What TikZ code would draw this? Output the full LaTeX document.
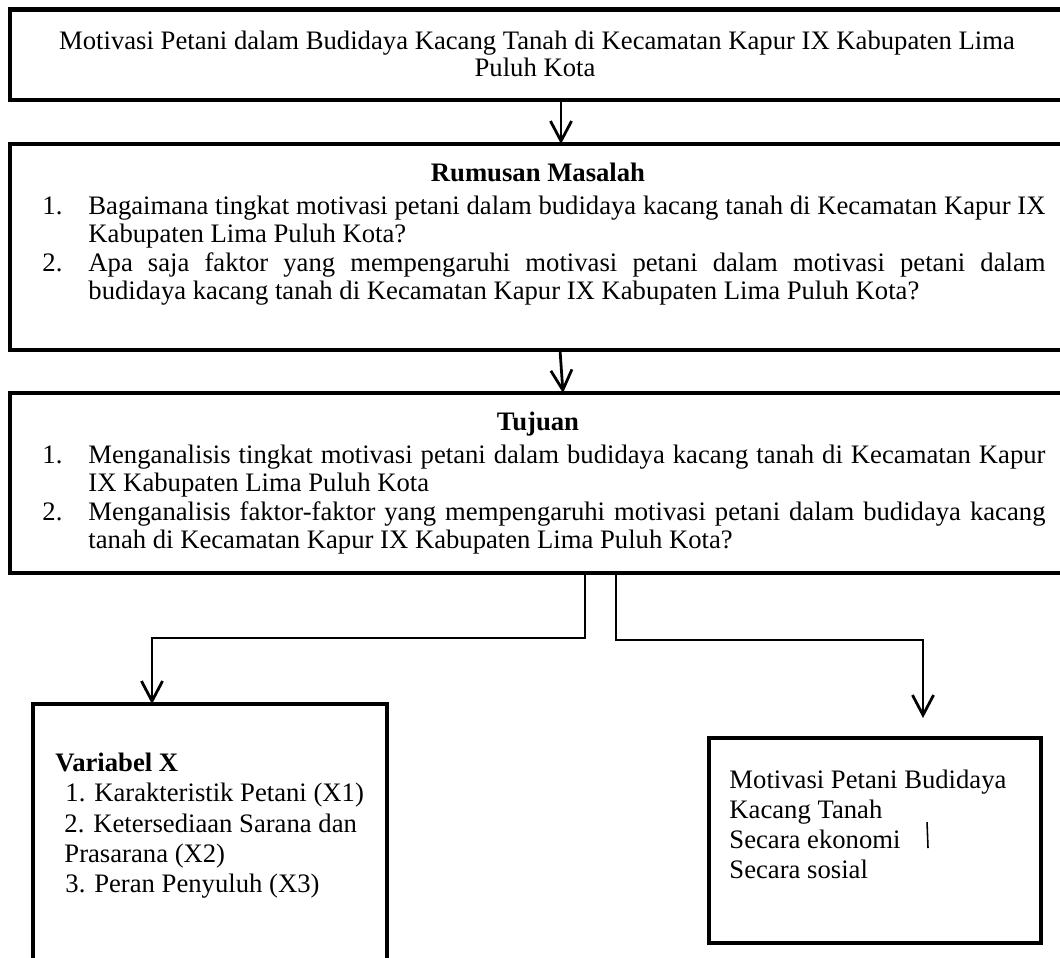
\documentclass[tikz,border=0pt]{standalone}
\usepackage{fontspec}
\setmainfont{Liberation Serif}
\usetikzlibrary{arrows.meta,fit}
\newcommand{\jl}[1]{\makebox[430.65pt][s]{#1}}
\begin{document}
\begin{tikzpicture}[x=0.45pt,y=-0.45pt,
  box/.style={draw, line width=2pt, inner sep=0pt, outer sep=0pt, rectangle},
  arr/.style={line width=1.25pt, -{Straight Barb[length=9pt,width=9.5pt,line width=1.25pt]}},
  txt/.style={anchor=base west, inner sep=0pt, font=\fontsize{12}{14}\selectfont},
  ctxt/.style={anchor=base, inner sep=0pt, font=\fontsize{12}{14}\selectfont},
  stray/.style={line width=0.7pt}]
\useasboundingbox (0,0) rectangle (1060,957);
\clip (0,0) rectangle (1060,957);
\fill[white] (0,0) rectangle (1060,957);

% boxes
\node[box, fit={(10,9.5) (1075,100)}] (b1) {};
\node[box, fit={(10,144) (1075,350)}] (b2) {};
\node[box, fit={(10,393) (1075,573)}] (b3) {};
\node[box, fit={(33,704) (387,990)}] (b4) {};
\node[box, fit={(709,738) (1041,943)}] (b5) {};

% box 1 text
\node[ctxt] (t1a) at (537,49) {Motivasi Petani dalam Budidaya Kacang Tanah di Kecamatan Kapur IX Kabupaten Lima};
\node[ctxt] (t1b) at (535,76) {Puluh Kota};

% box 2 text
\node[ctxt] (t2h) at (538,181) {\bfseries Rumusan Masalah};
\node[txt] (t2n1) at (42,214) {1.};
\node[txt] (t2a) at (88,214) {\jl{Bagaimana tingkat motivasi petani dalam budidaya kacang tanah di Kecamatan Kapur IX}};
\node[txt] (t2b) at (88,242.5) {Kabupaten Lima Puluh Kota?};
\node[txt] (t2n2) at (42,271) {2.};
\node[txt] (t2c) at (88,271) {\jl{Apa saja faktor yang mempengaruhi motivasi petani dalam motivasi petani dalam}};
\node[txt] (t2d) at (88,299.5) {budidaya kacang tanah di Kecamatan Kapur IX Kabupaten Lima Puluh Kota?};

% box 3 text
\node[ctxt] (t3h) at (538,430) {\bfseries Tujuan};
\node[txt] (t3n1) at (42,463) {1.};
\node[txt] (t3a) at (88,463) {\jl{Menganalisis tingkat motivasi petani dalam budidaya kacang tanah di Kecamatan Kapur}};
\node[txt] (t3b) at (88,491) {IX Kabupaten Lima Puluh Kota};
\node[txt] (t3n2) at (42,520) {2.};
\node[txt] (t3c) at (88,520) {\jl{Menganalisis faktor-faktor yang mempengaruhi motivasi petani dalam budidaya kacang}};
\node[txt] (t3d) at (88,548) {tanah di Kecamatan Kapur IX Kabupaten Lima Puluh Kota?};

% box 4 text
\node[txt] (t4h) at (55,771) {\bfseries Variabel X};
\node[txt] (t4a) at (65,801) {1. Karakteristik Petani (X1)};
\node[txt] (t4b) at (64,832) {2. Ketersediaan Sarana dan};
\node[txt] (t4c) at (64,862) {Prasarana (X2)};
\node[txt] (t4d) at (65,892) {3. Peran Penyuluh (X3)};

% box 5 text
\node[txt] (t5a) at (729,788) {Motivasi Petani Budidaya};
\node[txt] (t5b) at (729,818) {Kacang Tanah};
\node[txt] (t5c) at (729,848) {Secara ekonomi};
\node[txt] (t5d) at (729,878) {Secara sosial};

% connector coordinates
\coordinate (a1) at (561,0);
\coordinate (a2s) at (560,0);
\coordinate (a2e) at (563,0);
\coordinate (lv) at (585,638);
\coordinate (lh) at (152,638);
\coordinate (rv) at (616,640);
\coordinate (rh) at (923,640);
\coordinate (rt) at (923,718);
\coordinate (s1) at (927,822);
\coordinate (s2) at (928,848);

% connectors
\draw[arr] (b1.south -| a1) -- (b2.north -| a1);
\draw[arr] (b2.south -| a2s) -- (b3.north -| a2e);
\draw[arr] (b3.south -| lv) -- (lv) -- (lh) -- (b4.north -| lh);
\draw[arr] (b3.south -| rv) -- (rv) -- (rh) -- (rt);

% stray mark
\draw[stray] (s1) -- (s2);
\end{tikzpicture}
\end{document}
